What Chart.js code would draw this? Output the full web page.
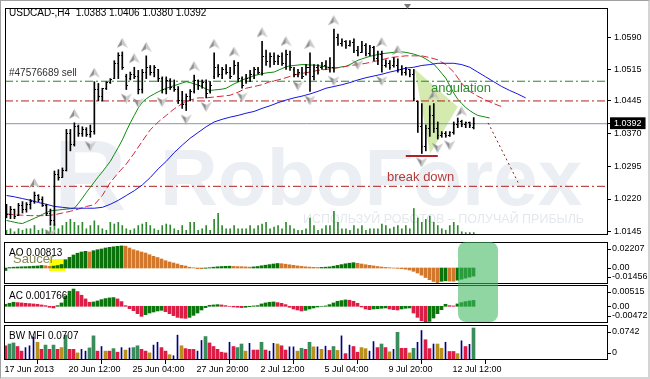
<!DOCTYPE html>
<html><head><meta charset="utf-8">
<script src="https://cdn.jsdelivr.net/npm/chart.js@4.4.1/dist/chart.umd.min.js"></script>
<style>
html,body{margin:0;padding:0;background:#fff;}
#wrap{position:relative;width:650px;height:379px;overflow:hidden;background:#fff;}
#wrap canvas{position:absolute;left:0;}
#frame{position:absolute;left:0;top:0;width:650px;height:379px;box-sizing:border-box;border-top:1px solid #a0a0a0;border-left:1px solid #a0a0a0;border-right:2px solid #d4d4d4;border-bottom:2px solid #d4d4d4;pointer-events:none}
#hl{position:absolute;left:458px;top:242px;width:40px;height:80px;border-radius:8px;background:rgba(64,186,98,0.59);pointer-events:none}
</style></head><body>
<div id="wrap">
<canvas id="cMain" width="650" height="237" style="top:3px"></canvas>
<canvas id="cAO" width="650" height="42" style="top:242px"></canvas>
<canvas id="cAC" width="650" height="38" style="top:285px"></canvas>
<canvas id="cMFI" width="650" height="54" style="top:325px"></canvas>
<div id="hl"></div>
<div id="frame"></div>
</div>
<script>
// ---------------- DATA ----------------
const symbolTitle = 'USDCAD-,H4  1.0383 1.0406 1.0380 1.0392';
const tickIdx = [0,16,32,48,64,80,96,112];
const tickLabels = ['17 Jun 2013','20 Jun 12:00','25 Jun 04:00','27 Jun 20:00','2 Jul 12:00','5 Jul 04:00','9 Jul 20:00','12 Jul 12:00'];
const priceTicks = [1.0590,1.0515,1.0445,1.0392,1.0370,1.0295,1.0220,1.0145];
const lastPrice = 1.0392;

const high = [1.0208,1.0203,1.0197,1.0210,1.0214,1.0212,1.0219,1.0236,1.0230,1.0225,
 1.0208,1.0197,1.0284,1.0287,1.0291,1.0379,1.0379,1.0394,1.0389,1.0385,
 1.0383,1.0389,1.0488,1.0484,1.0473,1.0488,1.0495,1.0536,1.0554,1.0556,
 1.0505,1.0510,1.0521,1.0514,1.0516,1.0547,1.0525,1.0525,1.0516,1.0499,
 1.0499,1.0495,1.0492,1.0477,1.0466,1.0460,1.0470,1.0503,1.0492,1.0492,
 1.0492,1.0488,1.0554,1.0527,1.0521,1.0527,1.0521,1.0536,1.0532,1.0499,
 1.0505,1.0514,1.0521,1.0521,1.0580,1.0560,1.0554,1.0554,1.0549,1.0554,
 1.0560,1.0558,1.0521,1.0516,1.0521,1.0527,1.0554,1.0527,1.0527,1.0532,
 1.0536,1.0543,1.0608,1.0597,1.0586,1.0582,1.0582,1.0586,1.0569,1.0580,
 1.0575,1.0571,1.0569,1.0558,1.0558,1.0538,1.0536,1.0543,1.0540,1.0525,
 1.0521,1.0516,1.0516,1.0444,1.0438,1.0389,1.0433,1.0438,1.0396,1.0374,
 1.0374,1.0374,1.0396,1.0405,1.0400,1.0396,1.0396,1.0406];
const low = [1.0177,1.0175,1.0175,1.0182,1.0188,1.0190,1.0197,1.0210,1.0214,1.0203,
 1.0182,1.0160,1.0160,1.0263,1.0269,1.0284,1.0330,1.0341,1.0363,1.0363,
 1.0363,1.0361,1.0368,1.0444,1.0444,1.0470,1.0484,1.0495,1.0495,1.0516,
 1.0470,1.0492,1.0495,1.0460,1.0462,1.0495,1.0503,1.0499,1.0488,1.0462,
 1.0460,1.0470,1.0466,1.0438,1.0427,1.0422,1.0444,1.0462,1.0470,1.0473,
 1.0451,1.0462,1.0495,1.0499,1.0495,1.0505,1.0495,1.0505,1.0488,1.0473,
 1.0484,1.0488,1.0495,1.0505,1.0503,1.0525,1.0521,1.0527,1.0527,1.0525,
 1.0516,1.0514,1.0499,1.0499,1.0495,1.0503,1.0466,1.0492,1.0505,1.0516,
 1.0516,1.0510,1.0510,1.0571,1.0569,1.0564,1.0569,1.0554,1.0547,1.0554,
 1.0547,1.0547,1.0536,1.0527,1.0510,1.0521,1.0516,1.0521,1.0510,1.0503,
 1.0503,1.0499,1.0444,1.0372,1.0324,1.0330,1.0363,1.0372,1.0357,1.0361,
 1.0361,1.0363,1.0368,1.0383,1.0385,1.0383,1.0383,1.0380];
const open = [1.0200,1.0185,1.0195,1.0182,1.0205,1.0195,1.0208,1.0215,1.0228,1.0220,
 1.0206,1.0188,1.0170,1.0275,1.0270,1.0285,1.0370,1.0345,1.0385,1.0370,
 1.0378,1.0368,1.0375,1.0470,1.0455,1.0472,1.0485,1.0496,1.0530,1.0548,
 1.0500,1.0495,1.0505,1.0500,1.0470,1.0510,1.0520,1.0510,1.0515,1.0495,
 1.0470,1.0490,1.0475,1.0470,1.0445,1.0435,1.0455,1.0465,1.0490,1.0480,
 1.0485,1.0465,1.0500,1.0520,1.0505,1.0515,1.0510,1.0505,1.0525,1.0495,
 1.0490,1.0495,1.0505,1.0515,1.0510,1.0545,1.0535,1.0545,1.0535,1.0545,
 1.0530,1.0550,1.0515,1.0505,1.0510,1.0505,1.0520,1.0500,1.0520,1.0520,
 1.0525,1.0520,1.0520,1.0590,1.0575,1.0580,1.0570,1.0578,1.0560,1.0555,
 1.0570,1.0552,1.0565,1.0540,1.0550,1.0525,1.0530,1.0525,1.0525,1.0515,
 1.0508,1.0515,1.0505,1.0442,1.0385,1.0340,1.0380,1.0410,1.0380,1.0365,
 1.0370,1.0365,1.0372,1.0390,1.0398,1.0390,1.0394,1.0383];
const close = [1.0185,1.0195,1.0180,1.0205,1.0195,1.0208,1.0215,1.0228,1.0220,1.0206,
 1.0188,1.0170,1.0275,1.0270,1.0285,1.0370,1.0345,1.0385,1.0370,1.0378,
 1.0368,1.0375,1.0470,1.0455,1.0472,1.0485,1.0492,1.0530,1.0548,1.0520,
 1.0480,1.0505,1.0500,1.0470,1.0510,1.0520,1.0510,1.0520,1.0495,1.0470,
 1.0490,1.0475,1.0470,1.0445,1.0435,1.0455,1.0465,1.0490,1.0480,1.0485,
 1.0460,1.0480,1.0520,1.0505,1.0515,1.0510,1.0500,1.0525,1.0495,1.0480,
 1.0495,1.0505,1.0515,1.0510,1.0545,1.0535,1.0545,1.0535,1.0545,1.0530,
 1.0550,1.0520,1.0505,1.0510,1.0500,1.0520,1.0500,1.0520,1.0510,1.0525,
 1.0520,1.0530,1.0590,1.0575,1.0580,1.0570,1.0578,1.0560,1.0555,1.0570,
 1.0552,1.0565,1.0540,1.0550,1.0525,1.0530,1.0520,1.0535,1.0515,1.0508,
 1.0515,1.0505,1.0450,1.0385,1.0340,1.0380,1.0410,1.0380,1.0365,1.0370,
 1.0365,1.0372,1.0390,1.0398,1.0390,1.0394,1.0388,1.0392];
const volume = [250,330,170,330,250,330,330,500,250,330,
 250,420,580,330,500,670,830,670,500,670,
 330,500,750,500,330,250,670,580,670,500,
 330,250,330,500,580,670,500,330,250,500,
 580,530,330,250,500,250,670,670,250,330,
 500,250,830,1150,500,330,330,500,330,330,
 330,500,330,500,580,670,330,420,500,330,
 670,500,330,250,250,330,900,500,250,330,
 500,500,1250,670,330,330,250,500,330,500,
 250,330,330,330,580,500,330,420,500,330,
 500,330,1400,900,670,830,1000,670,500,330,
 250,500,670,500,170,130,130,130];
// Alligator (shifted forward): lips every bar, teeth & jaw every 2nd bar
const lips = [1.0171,1.0169,1.0167,1.0165,1.0164,1.0168,1.0172,1.0176,1.0180,1.0185,
 1.0189,1.0193,1.0194,1.0195,1.0196,1.0197,1.0198,1.0199,1.0210,1.0222,
 1.0235,1.0247,1.0259,1.0271,1.0282,1.0294,1.0306,1.0322,1.0338,1.0355,
 1.0375,1.0394,1.0411,1.0428,1.0441,1.0449,1.0455,1.0460,1.0465,1.0469,
 1.0473,1.0476,1.0479,1.0482,1.0485,1.0488,1.0486,1.0483,1.0480,1.0476,
 1.0471,1.0468,1.0469,1.0470,1.0471,1.0473,1.0478,1.0483,1.0487,1.0492,
 1.0495,1.0498,1.0502,1.0504,1.0506,1.0508,1.0509,1.0510,1.0514,1.0518,
 1.0522,1.0524,1.0525,1.0526,1.0527,1.0527,1.0526,1.0526,1.0525,1.0523,
 1.0522,1.0520,1.0519,1.0520,1.0522,1.0523,1.0527,1.0532,1.0537,1.0540,
 1.0543,1.0546,1.0548,1.0550,1.0552,1.0553,1.0554,1.0555,1.0556,1.0556,
 1.0555,1.0553,1.0551,1.0548,1.0545,1.0540,1.0534,1.0528,1.0518,1.0507,
 1.0496,1.0479,1.0462,1.0448,1.0438,1.0429,1.0422,1.0416,1.0411,1.0409,
 1.0407,1.0405];
const teeth = [1.0186,1.0184,1.0183,1.0182,1.0182,1.0182,1.0184,1.0188,1.0192,1.0197,
 1.0203,1.0207,1.0228,1.0258,1.0280,1.0300,1.0325,1.0352,1.0378,1.0396,
 1.0411,1.0426,1.0438,1.0446,1.0451,1.0451,1.0453,1.0455,1.0457,1.0464,
 1.0473,1.0477,1.0481,1.0488,1.0492,1.0497,1.0503,1.0507,1.0510,1.0514,
 1.0516,1.0519,1.0521,1.0525,1.0527,1.0530,1.0534,1.0538,1.0543,1.0545,
 1.0547,1.0547,1.0547,1.0543,1.0538,1.0527,1.0510,1.0484,1.0466,1.0455,
 1.0446,1.0438,1.0431];
const jaw = [1.0228,1.0225,1.0221,1.0217,1.0212,1.0208,1.0203,1.0201,1.0199,1.0199,
 1.0199,1.0199,1.0201,1.0208,1.0217,1.0228,1.0239,1.0252,1.0269,1.0289,
 1.0306,1.0326,1.0343,1.0359,1.0372,1.0385,1.0396,1.0402,1.0407,1.0411,
 1.0416,1.0420,1.0427,1.0433,1.0440,1.0446,1.0451,1.0455,1.0460,1.0466,
 1.0473,1.0477,1.0481,1.0486,1.0492,1.0497,1.0501,1.0505,1.0510,1.0514,
 1.0519,1.0521,1.0525,1.0527,1.0530,1.0530,1.0530,1.0527,1.0521,1.0510,
 1.0499,1.0488,1.0477,1.0468,1.0460,1.0451];
const upFractals = [7,17,22,29,32,35,47,52,57,64,70,76,82,94,98,107,114];
const downFractals = [11,21,30,33,39,45,50,59,73,76,82,88,94,104,108,111];
const sellLevel = 1.0489, resistLevel = 1.0444, supportLevel = 1.0249;
const breakdown = {from:100, to:108, price:1.0318};
const angulation = [[102.2,1.0517],[113.0,1.0431],[106.1,1.0324]];
const projection = [[120.6,1.0394],[128.1,1.0258]];

const ao = [-0.0025,0.0005,0.0008,0.0010,0.0012,0.0013,0.0015,0.0018,0.0020,0.0025,
 0.0022,0.0016,0.0019,0.0025,0.0035,0.0083,0.0107,0.0130,0.0148,0.0160,
 0.0167,0.0160,0.0173,0.0183,0.0190,0.0200,0.0207,0.0212,0.0217,0.02207,
 0.0218,0.0200,0.0183,0.0172,0.0160,0.0150,0.0133,0.0117,0.0105,0.0090,
 0.0073,0.0060,0.0050,0.0040,0.0027,0.0020,0.0008,0.0002,-0.0006,-0.0007,
 -0.0003,0.0003,0.0008,0.0012,0.0015,0.0017,0.0018,0.0016,0.0014,0.0013,
 0.0011,0.0009,0.0011,0.0015,0.0022,0.0028,0.0034,0.0040,0.0045,0.0043,
 0.0038,0.0032,0.0027,0.0021,0.0016,0.0012,0.0009,0.0007,0.0005,0.0006,
 0.0008,0.0011,0.0018,0.0026,0.0034,0.0042,0.0048,0.0053,0.0047,0.0040,
 0.0033,0.0027,0.0021,0.0015,0.0010,0.0006,0.0003,-0.0001,-0.0004,-0.0007,
 -0.0012,-0.0020,-0.0033,-0.0050,-0.0072,-0.0095,-0.0117,-0.0135,-0.01456,-0.0133,
 -0.0128,-0.0131,-0.0133,-0.0122,-0.0112,-0.0101,-0.0091,-0.00813];
const ac = [0.0006,0.0009,0.0012,0.0011,0.0010,0.0009,0.0008,0.0007,0.0006,0.0004,
 0.0002,-0.0003,-0.0005,0.0002,0.0010,0.0030,0.0045,0.00515,0.0044,0.0033,
 0.0022,0.0012,0.0013,0.0016,0.0020,0.0023,0.0025,0.0026,0.0022,0.0014,
 0.0002,-0.0007,-0.0013,-0.0022,-0.0030,-0.0025,-0.0020,-0.0017,-0.0014,-0.0012,
 -0.0016,-0.0022,-0.0028,-0.0033,-0.0035,-0.0036,-0.0033,-0.0027,-0.0020,-0.0011,
 -0.0004,0.0003,0.0004,0.0005,0.0004,0.0002,0.0000,-0.0002,-0.0003,-0.0004,
 -0.0003,-0.0001,0.0001,0.0002,0.0007,0.0010,0.0012,0.0013,0.0011,0.0009,
 0.0005,-0.0003,-0.0008,-0.0011,-0.0014,-0.0012,-0.0008,-0.0005,-0.0002,0.0000,
 0.0001,0.0005,0.0010,0.0015,0.0017,0.0019,0.0018,0.0015,0.0009,-0.0002,
 -0.0008,-0.0010,-0.0008,-0.0007,-0.0006,-0.0005,-0.0008,-0.0010,-0.0011,-0.0008,
 -0.0006,-0.0005,-0.0020,-0.0033,-0.0043,-0.00472,-0.0045,-0.0035,-0.0022,-0.0010,
 0.0006,0.0002,0.0001,0.0007,0.0011,0.0014,0.0016,0.001766];
const mfi = [0.0330,0.0371,0.0396,0.0313,0.0206,0.0288,0.0330,0.0536,0.0412,0.0247,
 0.0346,0.0247,0.0346,0.0247,0.0288,0.0577,0.0247,0.0247,0.0165,0.0247,
 0.0206,0.0280,0.0560,0.0206,0.0313,0.0206,0.0206,0.0264,0.0181,0.0288,
 0.0231,0.0280,0.0288,0.0330,0.0247,0.0206,0.0165,0.0346,0.0412,0.0288,
 0.0206,0.0124,0.0099,0.0577,0.0330,0.0264,0.0247,0.0247,0.0206,0.0453,
 0.0544,0.0396,0.0313,0.0247,0.0181,0.0165,0.0412,0.0313,0.0288,0.0371,
 0.0206,0.0387,0.0231,0.0231,0.0412,0.0231,0.0206,0.0387,0.0371,0.0330,
 0.0231,0.0305,0.0305,0.0206,0.0272,0.0247,0.0412,0.0305,0.0305,0.0247,
 0.0321,0.0222,0.0313,0.0222,0.0560,0.0148,0.0346,0.0313,0.0181,0.0288,
 0.0264,0.0206,0.0428,0.0288,0.0371,0.0288,0.0190,0.0247,0.0643,0.0272,
 0.0272,0.0165,0.0272,0.0412,0.0684,0.0470,0.0264,0.0371,0.0371,0.0272,
 0.0412,0.0198,0.0198,0.0148,0.0445,0.0313,0.0363,0.0742];
// g = green, b = brown(fade), u = blue(fake), r = red(squat)
const mfiKind = ('rggrruuubr'+'grgrbgrrbu'+'uggrubrgru'+'buggrrbuur'+'rbuubrrruu'+
 'grrrrrurgg'+'burrgruubr'+'ruubgrgbub'+'urgbururrb'+'buurgrbugr'+'rbguurrubb'+'urrburug').split('');
const aoAxis = [0.02207, 0, -0.01456], aoAxisText = ['0.02207','0.00','-0.01456'];
const acAxis = [0.00515, 0, -0.00472], acAxisText = ['0.00515','0.00','-0.00472'];
const mfiAxis = [0.0742, 0], mfiAxisText = ['0.0742','0'];

// ---------------- RENDER ----------------
const FONT = '"Liberation Sans", Arial, sans-serif';
Chart.defaults.font.family = FONT;
Chart.defaults.animation = false;
const XMIN = -0.375, XMAX = 150.625;
const hiddenX = {type:'linear', min:XMIN, max:XMAX, offset:false, display:false};
function rightAxis(min, max) {
  return {position:'right', min, max, afterFit(s){ s.width = 42; s.paddingTop = 0; s.paddingBottom = 0; },
    ticks:{display:false}, grid:{display:false}, border:{display:false}};
}
function img(w,h,fn){ const c=document.createElement('canvas'); c.width=w; c.height=h; fn(c.getContext('2d')); return c; }
const openTick = img(3,1,g=>{g.fillStyle='#000';g.fillRect(0,0,1,1);});
const closeTick = img(3,1,g=>{g.fillStyle='#000';g.fillRect(2,0,1,1);});
const upArrow = img(11,28,g=>{
  g.fillStyle='#8e8e8e'; g.beginPath(); g.moveTo(5.5,0); g.lineTo(5.5,7); g.lineTo(0,10); g.closePath(); g.fill();
  g.fillStyle='#cacaca'; g.beginPath(); g.moveTo(5.5,0); g.lineTo(11,10); g.lineTo(5.5,7); g.closePath(); g.fill();
});
const dnArrow = img(11,28,g=>{
  g.fillStyle='#8e8e8e'; g.beginPath(); g.moveTo(5.5,28); g.lineTo(5.5,21); g.lineTo(0,18); g.closePath(); g.fill();
  g.fillStyle='#cacaca'; g.beginPath(); g.moveTo(5.5,28); g.lineTo(11,18); g.lineTo(5.5,21); g.closePath(); g.fill();
});
const idx = a => a.map((v,i)=>({x:i, y:v}));
const idx2 = a => a.map((v,k)=>({x:k*2, y:v}));
const hline = (v, color, dash, w) => ({type:'line', data:[{x:XMIN,y:v},{x:XMAX,y:v}], borderColor:color, borderWidth:w||1, borderDash:dash||[], pointRadius:0, order:20});
const lineDs = (pts, color, dash) => ({type:'line', data:pts, borderColor:color, borderWidth:1, borderDash:dash||[], pointRadius:0, tension:0, order:12});

function text(ctx, s, x, y, font, color) {
  ctx.font = font; ctx.fillStyle = color; ctx.textAlign = 'left'; ctx.textBaseline = 'middle'; ctx.fillText(s, x, y);
}

const MAIN_OFF = 3;
const mainDeco = {
  id:'mainDeco',
  beforeDatasetsDraw(chart){
    const ctx = chart.ctx, a = chart.chartArea;
    ctx.save();
    ctx.beginPath(); ctx.rect(a.left, a.top, a.right-a.left, a.bottom-a.top); ctx.clip();
    ctx.fillStyle = '#ebeef3'; ctx.textBaseline = 'alphabetic'; ctx.textAlign='left';
    ctx.font = 'bold 100px ' + FONT; ctx.fillText('R', 54, 210 - MAIN_OFF);
    ctx.font = 'bold 80px ' + FONT; ctx.fillText('RoboForex', 160, 205 - MAIN_OFF);
    text(ctx, 'ИСПОЛЬЗУЙ РОБОТОВ – ПОЛУЧАЙ ПРИБЫЛЬ', 303, 220 - MAIN_OFF, '12.5px ' + FONT, '#e4e8ed');
    ctx.restore();
  },
  afterDatasetsDraw(chart){
    const ctx = chart.ctx, a = chart.chartArea;
    ctx.save();
    ctx.strokeStyle = '#000'; ctx.lineWidth = 1;
    ctx.strokeRect(a.left+0.5, a.top+0.5, a.right-a.left-1, a.bottom-a.top-1);
    text(ctx, symbolTitle, 9, 13 - MAIN_OFF, '10px ' + FONT, '#000');
    text(ctx, '#47576689 sell', 9, 73 - MAIN_OFF, '10px ' + FONT, '#303030');
    text(ctx, 'angulation', 431, 88 - MAIN_OFF, '13px ' + FONT, '#2e8b2e');
    text(ctx, 'break down', 387, 177 - MAIN_OFF, '13px ' + FONT, '#b23c3a');
    ctx.fillStyle = '#7a7a7a'; ctx.beginPath(); ctx.moveTo(404, 1); ctx.lineTo(411, 1); ctx.lineTo(407.5, 6); ctx.closePath(); ctx.fill();
    ctx.restore();
  }
};

new Chart(document.getElementById('cMain'), {
  type:'line',
  data:{datasets:[
    {type:'line', data:[...angulation, angulation[0]].map(p=>({x:p[0], y:p[1]})), fill:'shape', backgroundColor:'rgba(205,230,160,0.85)', borderWidth:0, pointRadius:0, order:30},
    {type:'bar', data:idx(volume), yAxisID:'yv', backgroundColor:'#2f8a2f', barThickness:1, grouped:false, order:25},
    hline(lastPrice, '#8797a8'),
    hline(sellLevel, '#228b22', [8,3,2,3]),
    hline(resistLevel, '#b22222', [8,3,2,3]),
    hline(supportLevel, '#b22222', [8,3,2,3]),
    lineDs(idx2(jaw), '#1515e0'),
    lineDs(idx2(teeth), '#d4263c', [7,3]),
    lineDs(idx(lips), '#0e8a0e'),
    lineDs(projection.map(p=>({x:p[0], y:p[1]})), '#8b1a1a', [2,3]),
    {type:'line', data:[{x:breakdown.from, y:breakdown.price},{x:breakdown.to, y:breakdown.price}], borderColor:'#b22222', borderWidth:2, pointRadius:0, order:12},
    {type:'bar', data:high.map((h,i)=>({x:i, y:[low[i], h]})), backgroundColor:'#000', barThickness:1, grouped:false, order:5},
    {type:'line', data:idx(open), showLine:false, pointStyle:openTick, pointRadius:1, order:4},
    {type:'line', data:idx(close), showLine:false, pointStyle:closeTick, pointRadius:1, order:4},
    {type:'line', data:upFractals.map(i=>({x:i, y:high[i]})), showLine:false, pointStyle:upArrow, pointRadius:1, order:3},
    {type:'line', data:downFractals.map(i=>({x:i, y:low[i]})), showLine:false, pointStyle:dnArrow, pointRadius:1, order:3}
  ]},
  options:{
    responsive:false, animation:false, events:[],
    layout:{padding:{left:4, right:0, top:0, bottom:0}},
    plugins:{legend:{display:false}, tooltip:{enabled:false}},
    scales:{
      x: hiddenX,
      y:{position:'right', min:1.01378, max:1.06563,
        afterBuildTicks(s){ s.ticks = priceTicks.map(v=>({value:v})); },
        afterFit(s){ s.width = 42; s.paddingTop = 0; s.paddingBottom = 0; },
        ticks:{autoSkip:false, padding:3, font:{size:9},
          color:c=>(c.tick && c.tick.value===lastPrice) ? '#fff' : '#000',
          showLabelBackdrop:c=>!!(c.tick && c.tick.value===lastPrice),
          backdropColor:'#000', backdropPadding:{left:4,right:4,top:1,bottom:0},
          callback:v=>Number(v).toFixed(4)},
        grid:{display:true, drawOnChartArea:false, drawTicks:true, tickLength:3, color:'#000'},
        border:{display:false}},
      yv:{type:'linear', display:false, min:0, max:12000}
    }
  },
  plugins:[mainDeco]
});

function panelDeco(o){
  return {
    id:'deco',
    beforeDatasetsDraw(chart){ if (o.before) { chart.ctx.save(); o.before(chart.ctx, chart); chart.ctx.restore(); } },
    afterDatasetsDraw(chart){
      const ctx = chart.ctx, a = chart.chartArea, ys = chart.scales.y;
      ctx.save();
      ctx.strokeStyle = '#000'; ctx.lineWidth = 1;
      ctx.strokeRect(a.left+0.5, a.top+0.5, a.right-a.left-1, a.bottom-a.top-1);
      o.axisVals.forEach((v,k)=>{
        let py = ys.getPixelForValue(v);
        py = Math.min(Math.max(py, a.top+7), a.bottom-7);
        ctx.fillStyle = '#000'; ctx.fillRect(a.right, Math.round(py), 3, 1);
        text(ctx, o.axisText[k], a.right+4, py, '9px ' + FONT, '#000');
      });
      text(ctx, o.title, 9, 11, '10px ' + FONT, '#000');
      if (o.after) o.after(ctx, chart);
      ctx.restore();
    }
  };
}

const AO_UP = '#0b720b', AO_DN = '#d2782d';
const AC_UP = '#0b760b', AC_DN = '#dc1e46';
new Chart(document.getElementById('cAO'), {
  type:'bar',
  data:{datasets:[{data:idx(ao), backgroundColor:ao.map((v,i)=> (i===0 || v>ao[i-1]) ? AO_UP : AO_DN), barThickness:3, grouped:false}]},
  options:{responsive:false, animation:false, events:[], layout:{padding:{left:4,right:0,top:0,bottom:0}},
    plugins:{legend:{display:false}, tooltip:{enabled:false}},
    scales:{x:hiddenX, y:rightAxis(-0.016, 0.026)}},
  plugins:[panelDeco({title:'AO 0.00813', axisVals:aoAxis, axisText:aoAxisText,
    before:(ctx)=>{ ctx.fillStyle = '#ffff00'; ctx.fillRect(49, 17, 16, 12); },
    after:(ctx)=>{ text(ctx, 'Saucer', 13, 17, '13px ' + FONT, '#86865a'); }})]
});

new Chart(document.getElementById('cAC'), {
  type:'bar',
  data:{datasets:[{data:idx(ac), backgroundColor:ac.map((v,i)=> (i===0 || v>ac[i-1]) ? AC_UP : AC_DN), barThickness:3, grouped:false}]},
  options:{responsive:false, animation:false, events:[], layout:{padding:{left:4,right:0,top:0,bottom:0}},
    plugins:{legend:{display:false}, tooltip:{enabled:false}},
    scales:{x:hiddenX, y:rightAxis(-0.00498, 0.00635)}},
  plugins:[panelDeco({title:'AC 0.001766', axisVals:acAxis, axisText:acAxisText})]
});

const MFI_COL = {g:'#3a8c5c', b:'#b8901e', u:'#000080', r:'#dc1e46'};
new Chart(document.getElementById('cMFI'), {
  type:'bar',
  data:{datasets:[
    {data:mfi.map((v,i)=>({x:i, y: mfiKind[i]==='u' ? null : v})), backgroundColor:mfiKind.map(k=>MFI_COL[k]), barThickness:3, grouped:false},
    {data:mfi.map((v,i)=>({x:i, y: mfiKind[i]==='u' ? v : null})), backgroundColor:MFI_COL.u, barThickness:1, grouped:false}
  ]},
  options:{responsive:false, animation:false, events:[], layout:{padding:{left:4,right:0,top:0,bottom:0}},
    plugins:{legend:{display:false}, tooltip:{enabled:false}},
    scales:{
      x:{type:'linear', min:XMIN, max:XMAX, offset:false, position:'bottom',
        afterBuildTicks(s){ s.ticks = tickIdx.map(v=>({value:v})); },
        afterFit(s){ s.height = 19; s.paddingLeft = 0; s.paddingRight = 0; },
        ticks:{autoSkip:false, maxRotation:0, minRotation:0, align:'start', padding:0, labelOffset:-1, font:{size:9}, color:'#000',
          callback:(v,i)=>tickLabels[i]},
        grid:{display:true, drawOnChartArea:false, drawTicks:true, tickLength:4, color:'#000'},
        border:{display:false}},
      y:rightAxis(0, 0.0812)
    }},
  plugins:[panelDeco({title:'BW MFI 0.0707', axisVals:mfiAxis, axisText:mfiAxisText})]
});
</script>
</body></html>
